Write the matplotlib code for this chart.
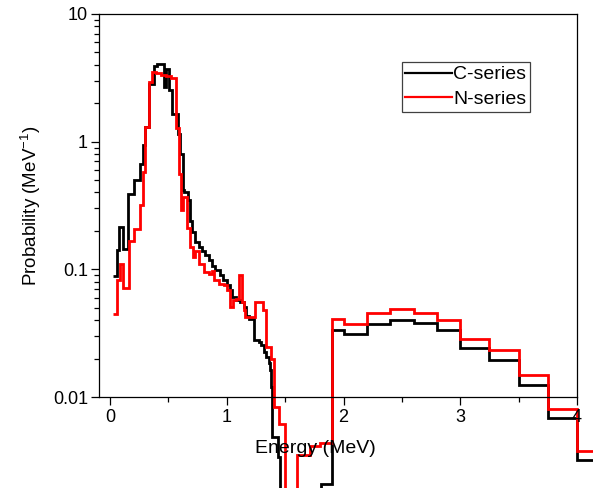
import numpy as np
import matplotlib
matplotlib.use("Agg")
import matplotlib.pyplot as plt
from matplotlib.ticker import LogLocator, MultipleLocator, FixedFormatter, FixedLocator

plt.rcParams['font.family'] = ['Liberation Sans', 'DejaVu Sans']
plt.rcParams['mathtext.fontset'] = 'custom'
plt.rcParams['mathtext.rm'] = 'Liberation Sans'

# bin edges (MeV) and probabilities (MeV^-1)
c_edges = [0.028, 0.058, 0.080, 0.109, 0.157, 0.209, 0.258, 0.281, 0.300, 0.337,
           0.372, 0.401, 0.458, 0.481, 0.506, 0.530, 0.581, 0.601, 0.621, 0.635,
           0.664, 0.681, 0.704, 0.730, 0.758, 0.787, 0.815, 0.844, 0.873, 0.901,
           0.938, 0.967, 1.002, 1.030, 1.045, 1.082, 1.116, 1.144, 1.165, 1.187,
           1.230, 1.273, 1.294, 1.316, 1.339, 1.359, 1.373, 1.382, 1.390, 1.436,
           1.459, 1.803, 1.90, 2.0, 2.2, 2.4, 2.6, 2.8, 3.0, 3.25, 3.5, 3.75, 4.0, 4.3]
c_vals = [0.088, 0.141, 0.214, 0.145, 0.392, 0.50, 0.67, 0.935, 1.3, 2.85,
          3.9, 4.05, 2.68, 3.7, 2.53, 1.66, 1.15, 0.80, 0.42, 0.40,
          0.35, 0.24, 0.195, 0.165, 0.149, 0.14, 0.129, 0.118, 0.107, 0.098,
          0.090, 0.082, 0.075, 0.0685, 0.061, 0.057, 0.0555, 0.0507, 0.043, 0.041,
          0.0278, 0.027, 0.0254, 0.0225, 0.0206, 0.0183, 0.0162, 0.012, 0.0049, 0.0034,
          1e-4, 0.0021, 0.0337, 0.0314, 0.0376, 0.0404, 0.0380, 0.0333, 0.0242, 0.0194,
          0.01236, 0.00685, 0.00319]

n_edges = [0.028, 0.063, 0.086, 0.109, 0.166, 0.209, 0.258, 0.286, 0.300, 0.337,
           0.358, 0.395, 0.438, 0.481, 0.524, 0.567, 0.588, 0.609, 0.621, 0.658,
           0.687, 0.712, 0.730, 0.758, 0.801, 0.844, 0.873, 0.887, 0.930, 0.973,
           1.002, 1.024, 1.053, 1.082, 1.101, 1.130, 1.144, 1.159, 1.245, 1.310,
           1.339, 1.382, 1.402, 1.446, 1.502, 1.605, 1.711, 1.797, 1.90, 2.0,
           2.2, 2.4, 2.6, 2.8, 3.0, 3.25, 3.5, 3.75, 4.0, 4.3]
n_vals = [0.045, 0.082, 0.111, 0.072, 0.166, 0.208, 0.32, 0.58, 1.3, 2.93,
          3.5, 3.45, 3.35, 3.25, 3.15, 1.27, 0.56, 0.29, 0.37, 0.21,
          0.149, 0.125, 0.14, 0.111, 0.095, 0.0925, 0.097, 0.082, 0.077, 0.075,
          0.0685, 0.0507, 0.057, 0.059, 0.09, 0.0555, 0.048, 0.0423, 0.0555, 0.048,
          0.0247, 0.020, 0.0083, 0.0062, 1e-4, 0.0035, 0.0041, 0.0044, 0.0406, 0.0376,
          0.0458, 0.0486, 0.0458, 0.0399, 0.0287, 0.0232, 0.0150, 0.0081, 0.00378]

y_ticks = [0.01, 0.1, 1, 10]
y_labels = ['0.01', '0.1', '1', '10']

fig = plt.figure(figsize=(5.93, 4.88), dpi=100)
ax = fig.add_axes([99/593, 91/488, 478/593, 383/488])

ax.stairs(c_vals, c_edges, baseline=None, color='black', lw=2.0, clip_on=False, label='C-series')
ax.stairs(n_vals, n_edges, baseline=None, color='#ff0000', lw=2.0, clip_on=False, label='N-series')

ax.set_yscale('log')
ax.set_ylim(0.01, 10)
ax.set_xlim(-0.095, 4.0)

ax.yaxis.set_major_locator(FixedLocator(y_ticks))
ax.yaxis.set_major_formatter(FixedFormatter(y_labels))
ax.yaxis.set_minor_locator(LogLocator(base=10, subs=np.arange(2, 10)))
ax.xaxis.set_major_locator(MultipleLocator(1))
ax.xaxis.set_minor_locator(MultipleLocator(0.5))

ax.tick_params(which='both', direction='out', labelsize=13, width=0.9, top=False, right=False)
ax.tick_params(which='major', length=6, pad=3)
ax.tick_params(axis='y', which='major', pad=2)
ax.tick_params(which='minor', length=3.5)
for s in ax.spines.values():
    s.set_linewidth(0.9)

ax.set_xlabel('Energy (MeV)', fontsize=14)
ax.set_ylabel('Probability (MeV$^{\\mathregular{-1}}$)', fontsize=13.5)
ax.xaxis.set_label_coords(0.452, -0.112)
ax.yaxis.set_label_coords(-0.118, 0.5)

leg = ax.legend(loc='upper left', bbox_to_anchor=(0.633, 0.875), borderaxespad=0,
                fontsize=14, handlelength=2.4, handletextpad=0.05, borderpad=0.2,
                labelspacing=0.35, fancybox=False, framealpha=1, edgecolor='#404040')
leg.get_frame().set_linewidth(0.9)
for h in leg.get_lines():
    h.set_linewidth(1.6)

fig.savefig('out.png', dpi=100)
